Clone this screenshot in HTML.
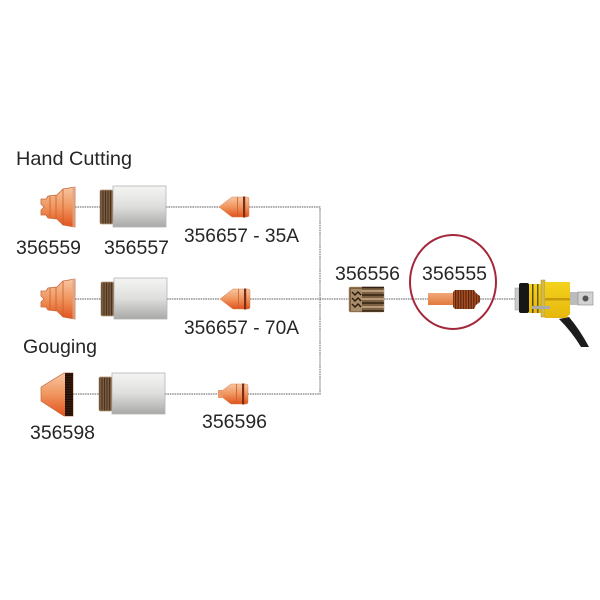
<!DOCTYPE html>
<html><head><meta charset="utf-8"><style>
html,body{margin:0;padding:0;background:#fff;width:600px;height:600px;overflow:hidden}
svg{display:block}
text{font-family:"Liberation Sans",sans-serif;font-size:19.5px;fill:#262626}
</style></head><body>
<svg width="600" height="600" viewBox="0 0 600 600" xmlns="http://www.w3.org/2000/svg">
<defs>
<filter id="soft" x="-5%" y="-5%" width="110%" height="110%"><feGaussianBlur stdDeviation="0.3"/></filter>
<linearGradient id="or" x1="0" y1="0" x2="0" y2="1"><stop offset="0" stop-color="#f7c6a2"/><stop offset=".5" stop-color="#f0955e"/><stop offset="1" stop-color="#e2521c"/></linearGradient>
<linearGradient id="el" x1="0" y1="0" x2="0" y2="1"><stop offset="0" stop-color="#f0a878"/><stop offset="1" stop-color="#e27a3c"/></linearGradient>
<linearGradient id="gr" x1="0" y1="0" x2="0" y2="1"><stop offset="0" stop-color="#f4f4f3"/><stop offset=".5" stop-color="#dededd"/><stop offset="1" stop-color="#a9a9a8"/></linearGradient>
<linearGradient id="yl" x1="0" y1="0" x2="0" y2="1"><stop offset="0" stop-color="#f3d21c"/><stop offset="1" stop-color="#e6b70c"/></linearGradient>
<pattern id="kn" width="2.5" height="3" patternUnits="userSpaceOnUse"><rect width="2.5" height="3" fill="#7a5c3e"/><rect width="1" height="3" fill="#4a3320"/></pattern>
<pattern id="kd" width="6" height="2.4" patternUnits="userSpaceOnUse"><rect width="6" height="2.4" fill="#3a1c10"/><rect y="0" width="6" height="1" fill="#160804"/></pattern>
<pattern id="th" width="2.6" height="4" patternUnits="userSpaceOnUse"><rect width="2.6" height="4" fill="#a84f26"/><rect width="1.200" height="4" fill="#5e2610"/></pattern>
<g id="shield">
<path d="M75,-20 L63,-18 L57,-12 L48,-11 L46,-8 L41,-8 L41,-3 L44,0 L41,3 L41,8 L46,8 L48,11 L57,12 L63,18 L75,20 Z" fill="url(#or)" stroke="#c9683a" stroke-width=".8"/>
<path d="M50,-11 V11 M56,-12 V12 M63,-18 V18" stroke="#c9602c" stroke-width=".8" fill="none"/>
<rect x="72.500" y="-20" width="2.500" height="40" fill="#d9a888" opacity=".8"/>
</g>
<g id="cap">
<rect x="100" y="-17" width="13" height="34" rx="1.500" fill="url(#kn)" stroke="#b99a7c" stroke-width=".7"/>
<rect x="113" y="-21" width="53" height="41" fill="url(#gr)" stroke="#b4b4b3" stroke-width=".8"/>
</g>
<g id="nozzle">
<path d="M219,0 L228,-7 L232,-10 H247 Q249,-10 249,-8 V8 Q249,10 247,10 H232 L228,7 Z" fill="url(#or)" stroke="#d7824e" stroke-width=".5"/>
<rect x="243" y="-10.500" width="2.200" height="21" fill="#7a2d12"/>
<rect x="237" y="-10" width=".8" height="20" fill="#c9602c"/>
</g>
</defs>

<g filter="url(#soft)">
<g stroke="#7f7f7f" stroke-width="1.200" stroke-dasharray="1.600 .8" fill="none">
<path d="M75,207 H100 M166,207 H220 M249,207 H320 V394 H248 M165,394 H218 M73,394 H99"/>
<path d="M75,299 H101 M167,299 H220 M250,299 H349 M384,299 H428 M480,299 H515"/>
</g>

<g transform="translate(0,207)"><use href="#shield"/><use href="#cap"/><use href="#nozzle"/></g>
<g transform="translate(0,299)"><use href="#shield"/><use href="#cap" x="1"/><use href="#nozzle" x="1"/></g>

<g transform="translate(0,394)">
<path d="M41,-7 L64,-21 H73 V22 H64 L41,7 Z" fill="url(#or)" stroke="#c9683a" stroke-width=".7"/>
<rect x="65" y="-21" width="8" height="43" fill="url(#kd)"/>
<use href="#cap" x="-1"/><use href="#nozzle" x="-1"/>
<rect x="218" y="-4" width="5" height="8" fill="#ee9a68"/>
</g>

<!-- 356556 -->
<g>
<rect x="349" y="287" width="35" height="25" rx="1.500" fill="#7d6043" stroke="#b99a7c" stroke-width=".6"/>
<path d="M351,289 H362 V311 H351 Z" fill="#a98c69"/>
<path d="M352,292 l3,3 l3,-3 l3,3 M352,298 l3,3 l3,-3 l3,3 M352,304 l3,3 l3,-3 l3,3" stroke="#2a1c10" stroke-width="1.400" fill="none"/>
<path d="M362,287.500 H384 M362,295 H384 M362,303 H384 M362,311 H384" stroke="#33241 6" stroke-width="0"/>
<path d="M362,287.500 H384 M362,295 H384 M362,303 H384 M362,311 H384" stroke="#332416" stroke-width="1.400"/>
<path d="M362,291 H384 M362,299 H384 M362,307 H384" stroke="#c4ae8e" stroke-width="1.600"/>
</g>

<!-- 356555 -->
<rect x="428" y="293" width="26" height="12" fill="url(#el)"/>
<path d="M453,292 L455,290 H474 L476,293 L480,296 V302 L476,305 L474,309 H455 L453,307 Z" fill="url(#th)"/>
<ellipse cx="453" cy="282" rx="43" ry="47" fill="none" stroke="#a5283a" stroke-width="2"/>

<!-- Torch -->
<path d="M559,319 L569,317 Q580,330 589,347 H581 Q572,332 559,319 Z" fill="#1c1c1c"/>
<rect x="515" y="288" width="4" height="22" fill="#c9c9c9" stroke="#999" stroke-width=".5"/>
<rect x="519" y="283" width="10" height="30" rx="2" fill="#141414"/>
<rect x="529" y="284" width="12" height="29" fill="url(#yl)"/>
<rect x="532" y="284" width="1.500" height="29" fill="#5a4a10"/>
<rect x="537" y="284" width="1.500" height="29" fill="#6b5a12"/>
<rect x="541" y="280" width="4" height="37" fill="#d4b84a" stroke="#a89228" stroke-width=".5"/>
<path d="M545,282 H570 V314 L566,318 H545 Z" fill="url(#yl)"/>
<rect x="545" y="298" width="25" height="2.500" fill="#c79a10"/>
<rect x="532" y="306" width="18" height="3" fill="#aaa"/>
<rect x="570" y="292" width="8" height="13" fill="#bcbcbc"/>
<rect x="578" y="292" width="15" height="13" fill="#d2d2d2" stroke="#888" stroke-width=".6"/>
<circle cx="585.500" cy="298.500" r="3" fill="#555"/>

<text x="16" y="165" textLength="116" lengthAdjust="spacingAndGlyphs">Hand Cutting</text>
<text x="16" y="254" textLength="65" lengthAdjust="spacingAndGlyphs">356559</text>
<text x="104" y="254" textLength="65" lengthAdjust="spacingAndGlyphs">356557</text>
<text x="184" y="242" textLength="115" lengthAdjust="spacingAndGlyphs">356657 - 35A</text>
<text x="184" y="334" textLength="115" lengthAdjust="spacingAndGlyphs">356657 - 70A</text>
<text x="23" y="353" textLength="74" lengthAdjust="spacingAndGlyphs">Gouging</text>
<text x="30" y="439" textLength="65" lengthAdjust="spacingAndGlyphs">356598</text>
<text x="202" y="428" textLength="65" lengthAdjust="spacingAndGlyphs">356596</text>
<text x="335" y="280" textLength="65" lengthAdjust="spacingAndGlyphs">356556</text>
<text x="422" y="280" textLength="65" lengthAdjust="spacingAndGlyphs">356555</text>
</g>
</svg>
</body></html>
